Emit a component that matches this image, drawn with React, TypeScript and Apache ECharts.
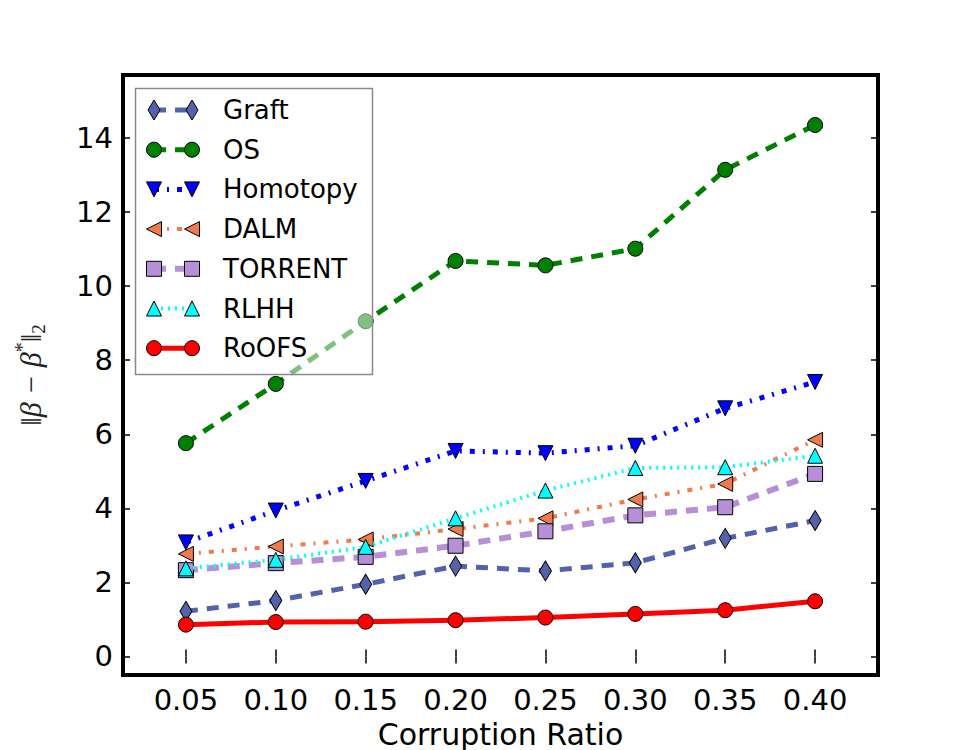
import React, { useEffect, useRef } from 'react';
import * as echarts from 'echarts';

const ratios = [0.05, 0.1, 0.15, 0.2, 0.25, 0.3, 0.35, 0.4];
const xTickLabels = ['0.05', '0.10', '0.15', '0.20', '0.25', '0.30', '0.35', '0.40'];
const yTicks = [0, 2, 4, 6, 8, 10, 12, 14];

const seriesNames = ['Graft', 'OS', 'Homotopy', 'DALM', 'TORRENT', 'RLHH', 'RoOFS'];
const graft = [1.22, 1.51, 1.95, 2.44, 2.31, 2.53, 3.19, 3.67];
const os = [5.76, 7.36, 9.05, 10.68, 10.56, 11.01, 13.14, 14.35];
const homotopy = [3.08, 3.94, 4.74, 5.55, 5.49, 5.69, 6.7, 7.41];
const dalm = [2.77, 2.97, 3.16, 3.44, 3.73, 4.24, 4.66, 5.85];
const torrent = [2.33, 2.52, 2.69, 2.99, 3.38, 3.81, 4.03, 4.93];
const rlhh = [2.38, 2.61, 2.96, 3.73, 4.48, 5.09, 5.11, 5.42];
const roofs = [0.86, 0.93, 0.94, 0.98, 1.05, 1.15, 1.25, 1.49];
const allValues = [graft, os, homotopy, dalm, torrent, rlhh, roofs];

type Sty = {
  color: string;
  width: number;
  dash: number[] | 'solid';
  marker: 'diamond' | 'circle' | 'triDown' | 'triLeft' | 'square' | 'triUp';
};

const styles: Sty[] = [
  { color: '#5462AC', width: 5, dash: [12, 9], marker: 'diamond' },
  { color: '#008000', width: 5, dash: [12, 9], marker: 'circle' },
  { color: '#0000FF', width: 5, dash: [5, 8, 2, 8], marker: 'triDown' },
  { color: '#EE7B4D', width: 4, dash: [5, 8, 2, 8], marker: 'triLeft' },
  { color: '#B78FD6', width: 6, dash: [12, 9], marker: 'square' },
  { color: '#00FFFF', width: 4, dash: [2, 5], marker: 'triUp' },
  { color: '#FF0000', width: 5, dash: 'solid', marker: 'circle' },
];

function symbolFor(m: Sty['marker']) {
  switch (m) {
    case 'diamond':
      return { symbol: 'diamond', symbolSize: [12, 20], symbolRotate: 0 };
    case 'circle':
      return { symbol: 'circle', symbolSize: 15, symbolRotate: 0 };
    case 'triDown':
      return { symbol: 'triangle', symbolSize: 15, symbolRotate: 180 };
    case 'triLeft':
      return { symbol: 'triangle', symbolSize: 15, symbolRotate: 90 };
    case 'square':
      return { symbol: 'rect', symbolSize: 15, symbolRotate: 0 };
    case 'triUp':
    default:
      return { symbol: 'triangle', symbolSize: 15, symbolRotate: 0 };
  }
}

const LZ = 100;

function legendMarker(m: Sty['marker'], cx: number, cy: number, fill: string) {
  const style = { fill, stroke: '#000', lineWidth: 1 };
  const h = 7.5;
  switch (m) {
    case 'diamond':
      return { type: 'polygon', z: LZ + 2, shape: { points: [[cx, cy - 10], [cx + 6, cy], [cx, cy + 10], [cx - 6, cy]] }, style };
    case 'circle':
      return { type: 'circle', z: LZ + 2, shape: { cx, cy, r: h }, style };
    case 'triDown':
      return { type: 'polygon', z: LZ + 2, shape: { points: [[cx - h, cy - h], [cx + h, cy - h], [cx, cy + h]] }, style };
    case 'triLeft':
      return { type: 'polygon', z: LZ + 2, shape: { points: [[cx + h, cy - h], [cx + h, cy + h], [cx - h, cy]] }, style };
    case 'square':
      return { type: 'rect', z: LZ + 2, shape: { x: cx - h, y: cy - h, width: 2 * h, height: 2 * h }, style };
    case 'triUp':
    default:
      return { type: 'polygon', z: LZ + 2, shape: { points: [[cx - h, cy + h], [cx + h, cy + h], [cx, cy - h]] }, style };
  }
}

function tickLabel(v: number) {
  let best = 0;
  for (let i = 0; i < ratios.length; i++) {
    if (Math.abs(ratios[i] - v) < Math.abs(ratios[best] - v)) best = i;
  }
  return xTickLabels[best];
}

export default function App() {
  const ref = useRef<HTMLDivElement>(null);
  useEffect(() => {
    if (!ref.current) return;
    const chart = echarts.init(ref.current, undefined, { renderer: 'svg' });

    const tickStyle = { lineStyle: { color: '#000', width: 1.5 } };
    const series = seriesNames.map((name, si) => {
      const s = styles[si];
      return {
        type: 'line',
        name,
        data: ratios.map((x, i) => [x, allValues[si][i]]),
        ...symbolFor(s.marker),
        showSymbol: true,
        itemStyle: { color: s.color, borderColor: '#000', borderWidth: 1, opacity: 1 },
        lineStyle: { color: s.color, width: s.width, type: s.dash, cap: 'butt', join: 'round' },
        emphasis: { disabled: true },
        z: 2 + si,
        xAxisIndex: 0,
        yAxisIndex: 0,
      };
    });

    const legendEls: any[] = [
      {
        type: 'rect',
        z: LZ,
        shape: { x: 135.5, y: 88.5, width: 237, height: 286 },
        style: { fill: 'rgba(255,255,255,0.5)', stroke: '#8a8a8a', lineWidth: 1.5 },
      },
    ];
    seriesNames.forEach((name, i) => {
      const s = styles[i];
      const y = 110 + i * 39.7;
      legendEls.push({
        type: 'line',
        z: LZ + 1,
        shape: { x1: 154, y1: y, x2: 192, y2: y },
        style: {
          stroke: s.color,
          lineWidth: s.width,
          lineDash: s.dash === 'solid' ? null : s.dash,
          lineCap: 'butt',
        },
      });
      legendEls.push(legendMarker(s.marker, 154, y, s.color));
      legendEls.push(legendMarker(s.marker, 192, y, s.color));
      legendEls.push({
        type: 'text',
        z: LZ + 3,
        x: 223,
        y,
        style: {
          text: name,
          fontSize: 26,
          fontFamily: 'DejaVu Sans',
          fill: '#000',
          verticalAlign: 'middle',
          align: 'left',
        },
      });
    });

    const xBase = {
      type: 'value',
      min: 0.015,
      max: 0.435,
      splitLine: { show: false },
      axisLine: { show: false },
    };
    const yBase = {
      type: 'value',
      min: -0.5,
      max: 15.7,
      splitLine: { show: false },
      axisLine: { show: false },
    };

    chart.setOption({
      animation: false,
      backgroundColor: '#fff',
      grid: {
        left: 123,
        right: 97,
        top: 75,
        bottom: 75,
        show: true,
        borderColor: '#000',
        borderWidth: 4,
        backgroundColor: 'transparent',
        outerBoundsMode: 'none',
      },
      xAxis: [
        {
          ...xBase,
          position: 'bottom',
          axisTick: { inside: true, length: 7, customValues: ratios, ...tickStyle },
          axisLabel: {
            customValues: ratios,
            formatter: (v: number) => tickLabel(v),
            fontSize: 29,
            fontFamily: 'DejaVu Sans',
            color: '#000',
            margin: 10,
          },
          name: 'Corruption Ratio',
          nameLocation: 'middle',
          nameGap: 44,
          nameTextStyle: { fontSize: 30, fontFamily: 'DejaVu Sans', color: '#000', verticalAlign: 'top' },
        },
        {
          ...xBase,
          position: 'top',
          axisTick: { inside: true, length: 7, customValues: ratios, ...tickStyle },
          axisLabel: { show: false },
        },
      ],
      yAxis: [
        {
          ...yBase,
          position: 'left',
          axisTick: { inside: true, length: 7, customValues: yTicks, ...tickStyle },
          axisLabel: {
            customValues: yTicks,
            fontSize: 29,
            fontFamily: 'DejaVu Sans',
            color: '#000',
            margin: 10,
          },
          name: '{a|‖β − β}{s|*}{a|‖}{b|2}',
          nameLocation: 'middle',
          nameGap: 75,
          nameTextStyle: {
            color: '#222',
            rich: {
              a: { fontSize: 30, fontFamily: 'Liberation Serif', fontStyle: 'italic', color: '#222', lineHeight: 36, verticalAlign: 'middle' },
              s: { fontSize: 20, fontFamily: 'Liberation Serif', color: '#222', verticalAlign: 'top', lineHeight: 36 },
              b: { fontSize: 19, fontFamily: 'Liberation Serif', color: '#222', verticalAlign: 'bottom', lineHeight: 36 },
            },
          },
        },
        {
          ...yBase,
          position: 'right',
          axisTick: { inside: true, length: 7, customValues: yTicks, ...tickStyle },
          axisLabel: { show: false },
        },
      ],
      series,
      graphic: { elements: legendEls },
    });

    return () => chart.dispose();
  }, []);

  return (
    <div
      ref={ref}
      style={{ position: 'fixed', left: 0, top: 0, width: 975, height: 750, background: '#fff' }}
    />
  );
}
